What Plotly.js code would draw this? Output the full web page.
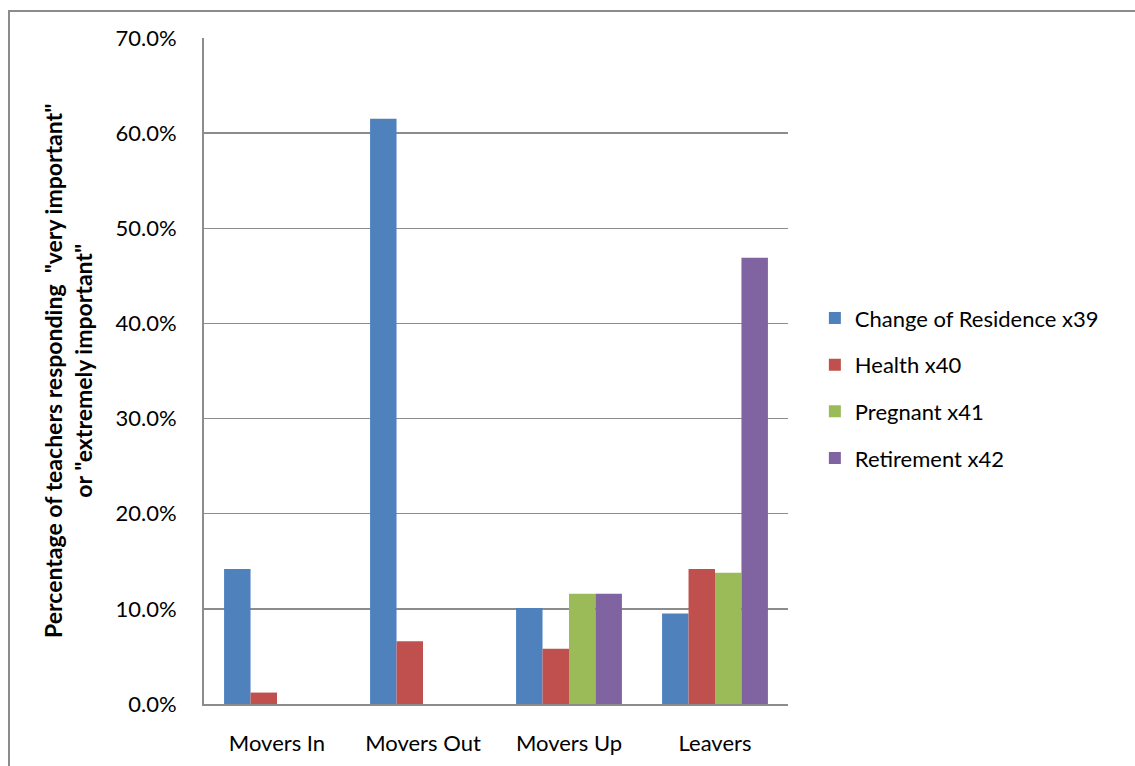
<!DOCTYPE html>
<html>
<head>
<meta charset="utf-8">
<script src="https://cdn.plot.ly/plotly-3.0.1.min.js"></script>
<style>
  html, body { margin: 0; padding: 0; background: #fff; }
  #wrap { position: relative; width: 1135px; height: 766px; overflow: hidden; }
  #frame { position: absolute; left: 8px; top: 10px; width: 2000px; height: 2000px;
           border-left: 2px solid #8c8c8c; border-top: 2px solid #8c8c8c; pointer-events: none; }
  #chart { position: absolute; left: 0; top: 0; width: 1135px; height: 766px; }
</style>
</head>
<body>
<div id="wrap">
  <div id="chart"></div>
  <div id="frame"></div>
</div>
<script>
const categories = ["Movers In", "Movers Out", "Movers Up", "Leavers"];
const seriesNames = ["Change of Residence x39", "Health x40", "Pregnant x41", "Retirement x42"];
const changeOfResidence = [0.142, 0.615, 0.101, 0.095];
const health = [0.012, 0.066, 0.058, 0.142];
const pregnant = [0, 0, 0.116, 0.138];
const retirement = [0, 0, 0.116, 0.469];
const colors = ["#4F81BD", "#C0504D", "#9BBB59", "#8064A2"];
const yTickVals = [0, 0.1, 0.2, 0.3, 0.4, 0.5, 0.6, 0.7];

const allSeries = [changeOfResidence, health, pregnant, retirement];
const FONT = "Lato, 'Open Sans', sans-serif";

const traces = allSeries.map((vals, i) => ({
  type: "bar",
  name: seriesNames[i],
  x: categories,
  y: vals,
  legendgroup: "g" + i,
  marker: { color: colors[i], line: { width: 0 } },
  hoverinfo: "x+y+name"
}));

const layout = {
  width: 1135,
  height: 766,
  margin: { l: 204, r: 347, t: 38, b: 62 },
  paper_bgcolor: "rgba(0,0,0,0)",
  plot_bgcolor: "#fff",
  barmode: "group",
  bargap: 0.275,
  bargroupgap: 0,
  font: { family: FONT, size: 22, color: "#000" },
  xaxis: {
    type: "category",
    showline: true,
    linecolor: "#8c8c8c",
    linewidth: 2,
    ticks: "outside",
    ticklen: 19,
    tickcolor: "rgba(0,0,0,0)",
    tickfont: { family: FONT, size: 22, color: "#000" },
    showgrid: false,
    zeroline: false
  },
  yaxis: {
    range: [0, 0.7],
    tickvals: yTickVals,
    tickformat: ".1%",
    showline: true,
    linecolor: "#8c8c8c",
    linewidth: 2,
    showgrid: true,
    gridcolor: "#8c8c8c",
    gridwidth: 1.5,
    zeroline: false,
    ticks: "outside",
    ticklen: 21,
    tickcolor: "rgba(0,0,0,0)",
    tickfont: { family: FONT, size: 22, color: "#000" }
  },
  legend: {
    x: 1.046,
    xanchor: "left",
    y: 0.474,
    yanchor: "middle",
    traceorder: "grouped",
    tracegroupgap: 15,
    font: { family: FONT, size: 22, color: "#000" },
    itemwidth: 30,
    bgcolor: "rgba(0,0,0,0)"
  },
  annotations: [{
    xref: "paper", yref: "paper",
    x: -0.233, y: 0.5,
    xanchor: "center", yanchor: "middle",
    textangle: -90,
    showarrow: false,
    text: "<b>Percentage of teachers responding  \"very important\"<br>or \"extremely important\"</b>",
    font: { family: FONT, size: 23, color: "#000" }
  }]
};

Plotly.newPlot("chart", traces, layout, { displayModeBar: false, staticPlot: true });
</script>
</body>
</html>
